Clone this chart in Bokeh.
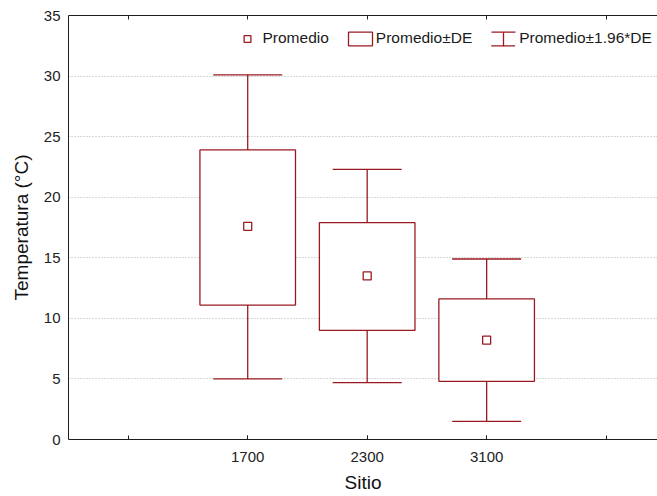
from bokeh.plotting import figure
from bokeh.models import Range1d, FixedTicker, LinearAxis, Legend, LegendItem
from bokeh.embed import file_html
from bokeh.resources import INLINE

# ---- data ----
sites = ["1700", "2300", "3100"]
mean = [17.6, 13.5, 8.2]
sd_lower = [11.1, 9.0, 4.8]
sd_upper = [23.9, 17.9, 11.6]
ci_lower = [5.0, 4.7, 1.5]
ci_upper = [30.1, 22.3, 14.9]
y_ticks = [0, 5, 10, 15, 20, 25, 30, 35]
legend_labels = ["Promedio", "Promedio±DE", "Promedio±1.96*DE"]
x_title = "Sitio"
y_title = "Temperatura (°C)"

# ---- styles ----
RED = "#9A1A20"
LW = 1.3
AX = "#1e1e1e"
FONT = "Liberation Sans"
TXT = "#222222"

xs = list(range(1, len(sites) + 1))
x_ticks = list(range(0, len(sites) + 2))
labels = {x: s for x, s in zip(xs, sites)}

p = figure(width=657, height=496, output_backend="svg", toolbar_location=None,
           x_range=Range1d(-0.5, 4.43), y_range=Range1d(0, 35),
           min_border_left=68, min_border_right=0, min_border_top=15,
           min_border_bottom=57)
p.outline_line_color = None
p.background_fill_color = "white"
p.border_fill_color = "white"

# grid
p.xgrid.visible = False
p.ygrid.ticker = FixedTicker(ticks=y_ticks)
p.ygrid.grid_line_color = "#b0b0b0"
p.ygrid.grid_line_dash = "1 2"

# x axis
xa = p.xaxis[0]
xa.ticker = FixedTicker(ticks=xs, minor_ticks=x_ticks)
xa.major_label_overrides = labels
xa.major_tick_in = 4
xa.major_tick_out = 0
xa.minor_tick_in = 4
xa.minor_tick_out = 0
xa.major_tick_line_color = AX
xa.minor_tick_line_color = AX
xa.axis_line_color = AX
xa.major_label_standoff = 12
xa.major_label_text_font = FONT
xa.major_label_text_font_size = "15px"
xa.major_label_text_color = TXT
xa.axis_label = x_title
xa.axis_label_standoff = 7
xa.axis_label_text_font = FONT
xa.axis_label_text_font_size = "19px"
xa.axis_label_text_font_style = "normal"
xa.axis_label_text_color = "#111111"

# y axis
ya = p.yaxis[0]
ya.ticker = FixedTicker(ticks=y_ticks)
ya.major_tick_in = 0
ya.major_tick_out = 0
ya.minor_tick_in = 0
ya.minor_tick_out = 0
ya.axis_line_color = AX
ya.major_label_standoff = 8
ya.major_label_text_font = FONT
ya.major_label_text_font_size = "15px"
ya.major_label_text_color = TXT
ya.axis_label = y_title
ya.axis_label_standoff = 9
ya.axis_label_text_font = FONT
ya.axis_label_text_font_size = "19px"
ya.axis_label_text_font_style = "normal"
ya.axis_label_text_color = "#111111"

# top frame axis (minor ticks only, no labels)
top = LinearAxis(ticker=FixedTicker(ticks=[], minor_ticks=x_ticks),
                 major_tick_in=0, major_tick_out=0,
                 minor_tick_in=4, minor_tick_out=0,
                 major_label_standoff=0, axis_line_color=AX,
                 minor_tick_line_color=AX)
p.add_layout(top, "above")

# ---- marks ----
p.segment(x0=xs, y0=ci_lower, x1=xs, y1=ci_upper, line_color=RED, line_width=LW)
p.scatter(x=xs + xs, y=ci_upper + ci_lower, marker="dash", size=69,
          line_color=RED, line_width=LW)
box = p.vbar(x=xs, width=0.8, bottom=sd_lower, top=sd_upper,
             fill_color="white", line_color=RED, line_width=LW)
mean_r = p.scatter(x=xs, y=mean, marker="square", size=8,
                   fill_color="white", line_color=RED, line_width=LW)

# legend-only glyphs (nothing shown in the plot area)
nan = [float("nan")]
caps_leg = p.vbar(x=nan, top=nan, bottom=nan, width=0.1, fill_color=None,
                  line_color=RED, line_width=LW, line_dash="24 14 24 14")
stem_leg = p.ellipse(x=nan, y=nan, width=0.01, height=10, width_units="screen",
                     height_units="screen", fill_color=None, line_color=RED,
                     line_width=LW)

legA = Legend(items=[LegendItem(label=legend_labels[0], renderers=[mean_r]),
                     LegendItem(label=legend_labels[1], renderers=[box]),
                     LegendItem(label=legend_labels[2], renderers=[caps_leg, stem_leg])],
              location=(163.5, 392), orientation="horizontal",
              glyph_width=30, glyph_height=17, label_height=17, label_standoff=1,
              spacing=16, padding=0, margin=0, border_line_color=None,
              background_fill_alpha=0, label_text_font=FONT,
              label_text_font_size="15.5px", label_text_color="#1a1a1a")
p.add_layout(legA)

open("out.html", "w").write(file_html(p, INLINE))
